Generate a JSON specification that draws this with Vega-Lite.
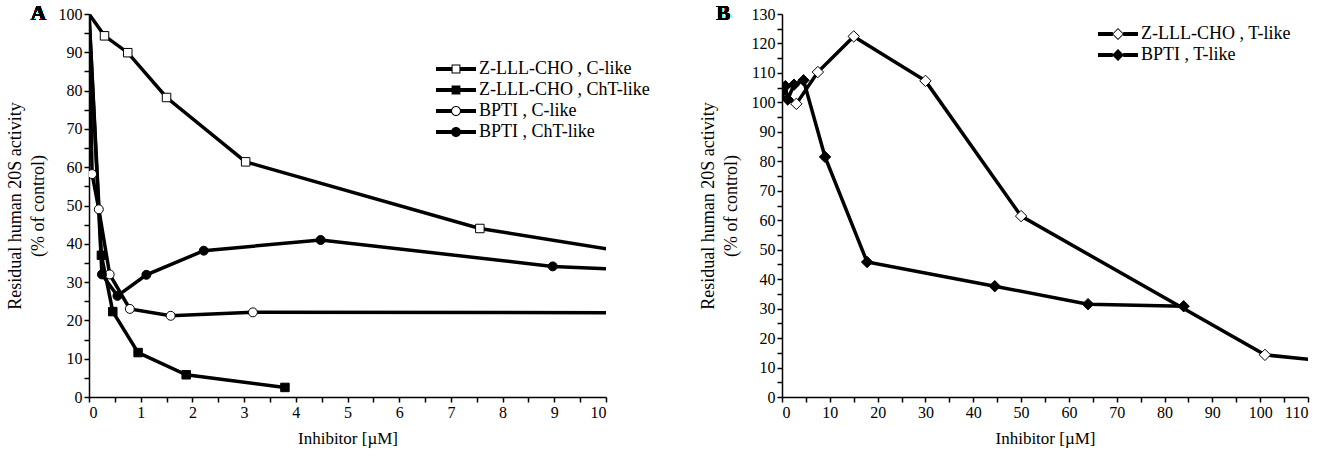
{
  "$schema": "https://vega.github.io/schema/vega-lite/v6.json",
  "background": "white",
  "padding": {"left": 6, "top": 3, "right": 2, "bottom": 2},
  "spacing": 49,
  "resolve": {"scale": {"shape": "independent"}, "legend": {"shape": "independent"}},
  "config": {
    "font": "Liberation Serif",
    "view": {"stroke": null},
    "axis": {
      "grid": false,
      "domainColor": "black",
      "domainWidth": 1.5,
      "tickColor": "black",
      "tickWidth": 1.5,
      "tickSize": 5,
      "labelPadding": 2,
      "labelFont": "Liberation Serif",
      "labelFontSize": 16,
      "labelColor": "black",
      "titleFont": "Liberation Serif",
      "titleFontSize": 17,
      "titleFontWeight": "normal",
      "titleColor": "black"
    },
    "axisY": {"titlePadding": 11, "titleLineHeight": 23, "titleFontSize": 18},
    "axisX": {"titlePadding": 10, "labelAngle": 0},
    "legend": {
      "labelFont": "Liberation Serif",
      "labelFontSize": 18,
      "labelColor": "black",
      "labelLimit": 400,
      "symbolSize": 64,
      "symbolOffset": 16,
      "labelOffset": 14,
      "symbolStrokeWidth": 0,
      "symbolFillColor": "black",
      "symbolOpacity": 1,
      "rowPadding": 3,
      "padding": 0
    },
    "text": {"font": "Liberation Serif"}
  },
  "datasets": {
    "a": [
      {"series": "Z-LLL-CHO , C-like", "x": 0, "y": 100},
      {"series": "Z-LLL-CHO , C-like", "x": 0.3, "y": 94.3},
      {"series": "Z-LLL-CHO , C-like", "x": 0.75, "y": 89.9},
      {"series": "Z-LLL-CHO , C-like", "x": 1.5, "y": 78.2},
      {"series": "Z-LLL-CHO , C-like", "x": 3.03, "y": 61.4},
      {"series": "Z-LLL-CHO , C-like", "x": 7.56, "y": 44},
      {"series": "Z-LLL-CHO , C-like", "x": 15, "y": 27.8},
      {"series": "Z-LLL-CHO , ChT-like", "x": 0, "y": 100},
      {"series": "Z-LLL-CHO , ChT-like", "x": 0.24, "y": 37},
      {"series": "Z-LLL-CHO , ChT-like", "x": 0.46, "y": 22.3},
      {"series": "Z-LLL-CHO , ChT-like", "x": 0.95, "y": 11.6},
      {"series": "Z-LLL-CHO , ChT-like", "x": 1.88, "y": 5.8},
      {"series": "Z-LLL-CHO , ChT-like", "x": 3.79, "y": 2.5},
      {"series": "BPTI , C-like", "x": 0, "y": 100},
      {"series": "BPTI , C-like", "x": 0.06, "y": 58.2},
      {"series": "BPTI , C-like", "x": 0.19, "y": 49},
      {"series": "BPTI , C-like", "x": 0.4, "y": 32},
      {"series": "BPTI , C-like", "x": 0.79, "y": 23},
      {"series": "BPTI , C-like", "x": 1.58, "y": 21.2},
      {"series": "BPTI , C-like", "x": 3.17, "y": 22.1},
      {"series": "BPTI , C-like", "x": 12.7, "y": 22},
      {"series": "BPTI , ChT-like", "x": 0, "y": 100},
      {"series": "BPTI , ChT-like", "x": 0.25, "y": 32},
      {"series": "BPTI , ChT-like", "x": 0.55, "y": 26.4},
      {"series": "BPTI , ChT-like", "x": 1.11, "y": 31.9},
      {"series": "BPTI , ChT-like", "x": 2.22, "y": 38.2},
      {"series": "BPTI , ChT-like", "x": 4.48, "y": 41},
      {"series": "BPTI , ChT-like", "x": 8.97, "y": 34.1},
      {"series": "BPTI , ChT-like", "x": 18, "y": 28.8}
    ],
    "b": [
      {"series": "Z-LLL-CHO , T-like", "x": 0, "y": 102},
      {"series": "Z-LLL-CHO , T-like", "x": 3, "y": 99.5},
      {"series": "Z-LLL-CHO , T-like", "x": 7.5, "y": 110.3},
      {"series": "Z-LLL-CHO , T-like", "x": 15, "y": 122.4},
      {"series": "Z-LLL-CHO , T-like", "x": 30, "y": 107.3},
      {"series": "Z-LLL-CHO , T-like", "x": 50, "y": 61.4},
      {"series": "Z-LLL-CHO , T-like", "x": 101, "y": 14.3},
      {"series": "Z-LLL-CHO , T-like", "x": 120, "y": 11.2},
      {"series": "BPTI , T-like", "x": 0, "y": 101},
      {"series": "BPTI , T-like", "x": 0.7, "y": 105.5},
      {"series": "BPTI , T-like", "x": 1.2, "y": 101},
      {"series": "BPTI , T-like", "x": 2.5, "y": 106},
      {"series": "BPTI , T-like", "x": 4.5, "y": 107.5},
      {"series": "BPTI , T-like", "x": 9, "y": 81.5},
      {"series": "BPTI , T-like", "x": 17.8, "y": 45.8},
      {"series": "BPTI , T-like", "x": 44.5, "y": 37.6},
      {"series": "BPTI , T-like", "x": 64, "y": 31.5},
      {"series": "BPTI , T-like", "x": 84, "y": 30.8}
    ]
  },
  "hconcat": [
    {
      "width": 517,
      "height": 383,
      "data": {"name": "a"},
      "encoding": {
        "x": {
          "field": "x", "type": "quantitative",
          "scale": {"domain": [0, 10], "nice": false, "zero": false},
          "axis": {
            "title": "Inhibitor [µM]",
            "labelFont": "Liberation Serif", "titleFont": "Liberation Serif",
            "values": [0, 0.5, 1, 1.5, 2, 2.5, 3, 3.5, 4, 4.5, 5, 5.5, 6, 6.5, 7, 7.5, 8, 8.5, 9, 9.5, 10],
            "labelExpr": "datum.value % 1 === 0 ? format(datum.value, 'd') : ''",
            "encode": {"ticks": {"update": {"y2": {"signal": "datum.value % 1 === 0 ? 5 : 3"}}}}
          }
        },
        "y": {
          "field": "y", "type": "quantitative",
          "scale": {"domain": [0, 100], "nice": false},
          "axis": {
            "title": ["Residual human 20S activity", "(% of control)"],
            "labelFont": "Liberation Serif", "titleFont": "Liberation Serif",
            "values": [0, 5, 10, 15, 20, 25, 30, 35, 40, 45, 50, 55, 60, 65, 70, 75, 80, 85, 90, 95, 100],
            "labelExpr": "datum.value % 10 === 0 ? format(datum.value, 'd') : ''",
            "encode": {"ticks": {"update": {"x2": {"signal": "datum.value % 10 === 0 ? -5 : -3"}}}}
          }
        }
      },
      "layer": [
        {
          "mark": {"type": "point", "filled": true, "color": "black", "strokeWidth": 0, "size": 64, "opacity": 0, "clip": true},
          "encoding": {
            "shape": {
              "field": "series", "type": "nominal",
              "scale": {
                "domain": ["Z-LLL-CHO , C-like", "Z-LLL-CHO , ChT-like", "BPTI , C-like", "BPTI , ChT-like"],
                "range": [
                  "M-5,-0.5H-1V0.5H-5ZM1,-0.5H5V0.5H1ZM-1.1,-1.1H1.1V1.1H-1.1ZM-0.85,-0.85V0.85H0.85V-0.85Z",
                  "M-5,-0.5H-1V0.5H-5ZM1,-0.5H5V0.5H1ZM-1.1,-1.1H1.1V1.1H-1.1Z",
                  "M-5,-0.5H-1.15V0.5H-5ZM1.15,-0.5H5V0.5H1.15ZM-1.25,0A1.25,1.25,0,1,1,1.25,0A1.25,1.25,0,1,1,-1.25,0ZM-1,0A1,1,0,1,0,1,0A1,1,0,1,0,-1,0Z",
                  "M-5,-0.5H-1.15V0.5H-5ZM1.15,-0.5H5V0.5H1.15ZM-1.25,0A1.25,1.25,0,1,1,1.25,0A1.25,1.25,0,1,1,-1.25,0Z"
                ]
              },
              "legend": {"orient": "none", "legendX": 342, "legendY": 46, "title": null, "labelFont": "Liberation Serif", "symbolOpacity": 1}
            }
          }
        },
        {
          "mark": {"type": "line", "color": "black", "strokeWidth": 3.5, "clip": true},
          "encoding": {"detail": {"field": "series"}}
        },
        {
          "transform": [{"filter": {"and": [{"field": "series", "equal": "Z-LLL-CHO , C-like"}, {"field": "x", "gt": 0}]}}],
          "mark": {"type": "point", "shape": "square", "filled": true, "fill": "white", "stroke": "black", "strokeWidth": 1, "size": 72, "opacity": 1, "clip": true}
        },
        {
          "transform": [{"filter": {"and": [{"field": "series", "equal": "Z-LLL-CHO , ChT-like"}, {"field": "x", "gt": 0}]}}],
          "mark": {"type": "point", "shape": "square", "filled": true, "fill": "black", "stroke": "black", "strokeWidth": 1, "size": 72, "opacity": 1, "clip": true}
        },
        {
          "transform": [{"filter": {"and": [{"field": "series", "equal": "BPTI , C-like"}, {"field": "x", "gt": 0}]}}],
          "mark": {"type": "point", "shape": "circle", "filled": true, "fill": "white", "stroke": "black", "strokeWidth": 1, "size": 80, "opacity": 1, "clip": true}
        },
        {
          "transform": [{"filter": {"and": [{"field": "series", "equal": "BPTI , ChT-like"}, {"field": "x", "gt": 0}]}}],
          "mark": {"type": "point", "shape": "circle", "filled": true, "fill": "black", "stroke": "black", "strokeWidth": 1, "size": 80, "opacity": 1, "clip": true}
        },
        {
          "mark": {"type": "text", "text": "A", "fontSize": 21, "fontWeight": "bold", "font": "Liberation Serif", "color": "black", "clip": false},
          "encoding": {"x": {"datum": -0.98}, "y": {"datum": 100}}
        }
      ]
    },
    {
      "width": 526,
      "height": 383,
      "data": {"name": "b"},
      "encoding": {
        "x": {
          "field": "x", "type": "quantitative",
          "scale": {"domain": [0, 110], "nice": false, "zero": false},
          "axis": {
            "title": "Inhibitor [µM]",
            "labelFont": "Liberation Serif", "titleFont": "Liberation Serif",
            "values": [0, 5, 10, 15, 20, 25, 30, 35, 40, 45, 50, 55, 60, 65, 70, 75, 80, 85, 90, 95, 100, 105, 110],
            "labelExpr": "datum.value % 10 === 0 ? format(datum.value, 'd') : ''",
            "encode": {"ticks": {"update": {"y2": {"signal": "datum.value % 10 === 0 ? 5 : 3"}}}}
          }
        },
        "y": {
          "field": "y", "type": "quantitative",
          "scale": {"domain": [0, 130], "nice": false},
          "axis": {
            "title": ["Residual human 20S activity", "(% of control)"],
            "labelFont": "Liberation Serif", "titleFont": "Liberation Serif",
            "values": [0, 5, 10, 15, 20, 25, 30, 35, 40, 45, 50, 55, 60, 65, 70, 75, 80, 85, 90, 95, 100, 105, 110, 115, 120, 125, 130],
            "labelExpr": "datum.value % 10 === 0 ? format(datum.value, 'd') : ''",
            "encode": {"ticks": {"update": {"x2": {"signal": "datum.value % 10 === 0 ? -5 : -3"}}}}
          }
        }
      },
      "layer": [
        {
          "mark": {"type": "point", "filled": true, "color": "black", "strokeWidth": 0, "size": 64, "opacity": 0, "clip": true},
          "encoding": {
            "shape": {
              "field": "series", "type": "nominal",
              "scale": {
                "domain": ["Z-LLL-CHO , T-like", "BPTI , T-like"],
                "range": [
                  "M-5,-0.5H-1.3V0.5H-5ZM1.3,-0.5H5V0.5H1.3ZM0,-1.5L1.5,0L0,1.5L-1.5,0ZM0,-1.2L-1.2,0L0,1.2L1.2,0Z",
                  "M-5,-0.5H-1.3V0.5H-5ZM1.3,-0.5H5V0.5H1.3ZM0,-1.5L1.5,0L0,1.5L-1.5,0Z"
                ]
              },
              "legend": {"orient": "none", "legendX": 311, "legendY": 11, "title": null, "labelFont": "Liberation Serif", "symbolOpacity": 1}
            }
          }
        },
        {
          "mark": {"type": "line", "color": "black", "strokeWidth": 3.5, "clip": true},
          "encoding": {"detail": {"field": "series"}}
        },
        {
          "transform": [{"filter": {"and": [{"field": "series", "equal": "Z-LLL-CHO , T-like"}, {"field": "x", "gt": 0}]}}],
          "mark": {"type": "point", "shape": "diamond", "filled": true, "fill": "white", "stroke": "black", "strokeWidth": 1, "size": 130, "opacity": 1, "clip": true}
        },
        {
          "transform": [{"filter": {"and": [{"field": "series", "equal": "BPTI , T-like"}, {"field": "x", "gt": 0}]}}],
          "mark": {"type": "point", "shape": "diamond", "filled": true, "fill": "black", "stroke": "black", "strokeWidth": 1, "size": 130, "opacity": 1, "clip": true}
        },
        {
          "mark": {"type": "text", "text": "B", "fontSize": 21, "fontWeight": "bold", "font": "Liberation Serif", "color": "black", "clip": false},
          "encoding": {"x": {"datum": -12.3}, "y": {"datum": 130}}
        }
      ]
    }
  ]
}
